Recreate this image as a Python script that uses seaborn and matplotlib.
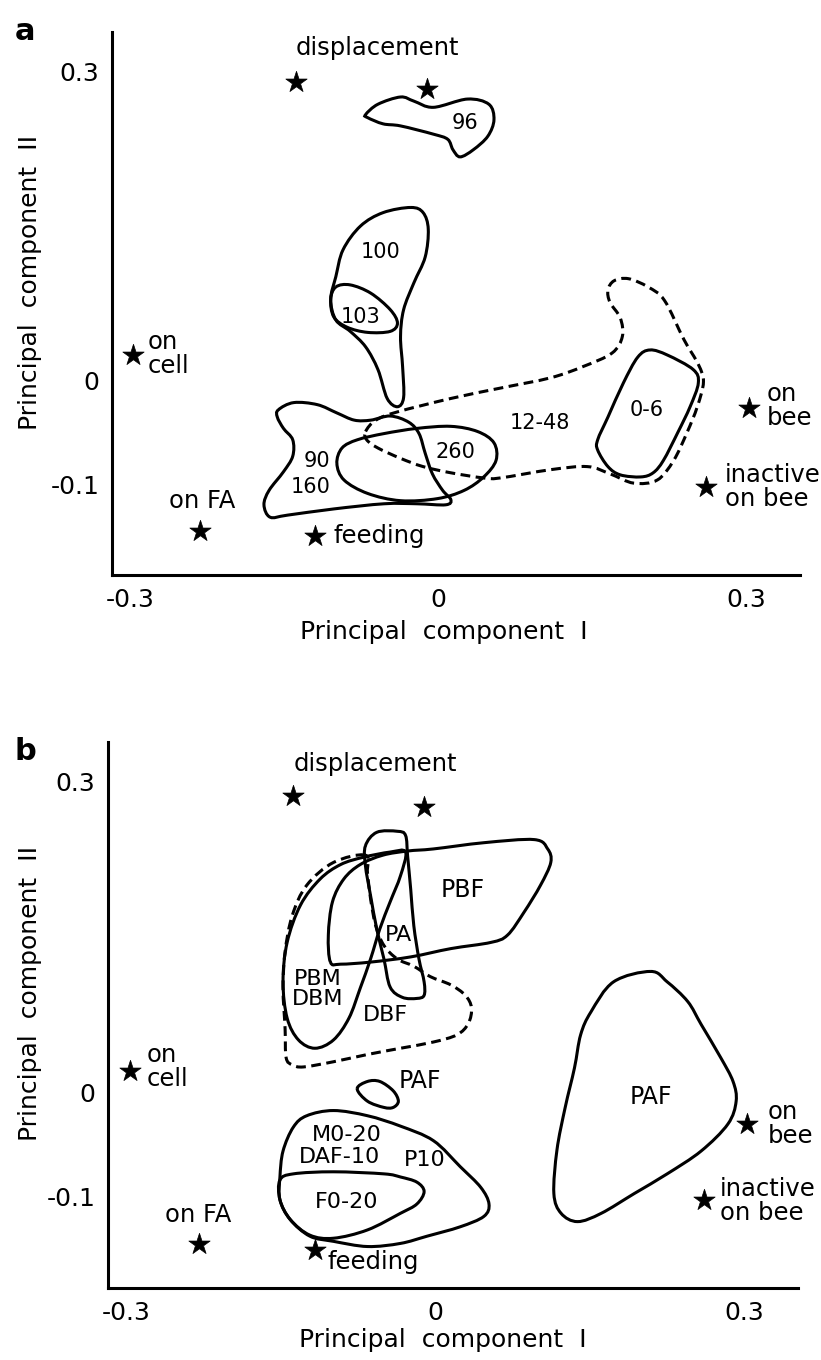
import matplotlib
matplotlib.use("Agg")
import matplotlib.pyplot as plt
from matplotlib.path import Path
from matplotlib.patches import PathPatch
import seaborn as sns
import pandas as pd

# ---- behaviour reference points (stars) ----
STARS_A_X = [-0.139, -0.011, -0.298, -0.232, -0.120, 0.302, 0.260]
STARS_A_Y = [0.290, 0.283, 0.025, -0.145, -0.150, -0.026, -0.103]
STARS_B_X = [-0.138, -0.011, -0.297, -0.230, -0.117, 0.303, 0.261]
STARS_B_Y = [0.286, 0.275, 0.021, -0.146, -0.151, -0.030, -0.103]

STAR_TEXT = ["displacement", "on\ncell", "on FA", "feeding", "on\nbee", "inactive\non bee"]
STAR_TEXT_HA = ["center", "left", "center", "left", "left", "left"]
STAR_TEXT_A = [(-0.060, 0.322), (-0.283, 0.026), (-0.230, -0.116), (-0.102, -0.150),
               (0.320, -0.024), (0.279, -0.103)]
STAR_TEXT_B = [(-0.058, 0.317), (-0.280, 0.025), (-0.230, -0.118), (-0.105, -0.163),
               (0.323, -0.030), (0.276, -0.104)]

# ---- panel a: group outlines (PC I, PC II) ----
A_96 = [(-0.071, 0.258), (-0.059, 0.268), (-0.037, 0.275), (-0.024, 0.271), (-0.005, 0.265),
        (0.028, 0.273), (0.049, 0.268), (0.054, 0.253), (0.048, 0.237), (0.034, 0.224),
        (0.021, 0.217), (0.014, 0.224), (0.009, 0.234), (-0.005, 0.239), (-0.037, 0.247),
        (-0.054, 0.249), (-0.069, 0.255)]
A_100 = [(-0.027, 0.168), (-0.015, 0.163), (-0.010, 0.147), (-0.013, 0.120), (-0.024, 0.095),
         (-0.034, 0.069), (-0.037, 0.043), (-0.035, 0.014), (-0.034, -0.016), (-0.040, -0.025),
         (-0.050, -0.017), (-0.059, 0.011), (-0.071, 0.033), (-0.086, 0.048), (-0.100, 0.059),
         (-0.105, 0.079), (-0.100, 0.101), (-0.093, 0.127), (-0.076, 0.150), (-0.054, 0.163)]
A_103 = [(-0.100, 0.091), (-0.086, 0.093), (-0.066, 0.085), (-0.047, 0.069), (-0.040, 0.056),
         (-0.047, 0.048), (-0.069, 0.047), (-0.089, 0.052), (-0.102, 0.062), (-0.105, 0.079)]
A_90_160 = [(-0.156, -0.028), (-0.141, -0.021), (-0.118, -0.023), (-0.099, -0.031), (-0.082, -0.038),
            (-0.066, -0.038), (-0.047, -0.034), (-0.029, -0.040), (-0.019, -0.051), (-0.013, -0.070),
            (-0.006, -0.090), (0.004, -0.106), (0.012, -0.115), (0.007, -0.120), (-0.021, -0.119),
            (-0.053, -0.119), (-0.102, -0.124), (-0.147, -0.130), (-0.164, -0.132), (-0.170, -0.120),
            (-0.165, -0.106), (-0.151, -0.088), (-0.142, -0.073), (-0.142, -0.057), (-0.151, -0.046),
            (-0.157, -0.035)]
A_260 = [(-0.099, -0.080), (-0.094, -0.065), (-0.079, -0.057), (-0.053, -0.051), (-0.021, -0.046),
         (0.012, -0.044), (0.038, -0.049), (0.054, -0.060), (0.056, -0.077), (0.044, -0.093),
         (0.025, -0.106), (-0.001, -0.114), (-0.037, -0.116), (-0.069, -0.109), (-0.092, -0.096)]
A_12_48 = [(-0.071, -0.049), (-0.061, -0.038), (-0.040, -0.030), (0.012, -0.017), (0.060, -0.007),
           (0.109, 0.003), (0.141, 0.014), (0.169, 0.027), (0.179, 0.043), (0.177, 0.061),
           (0.167, 0.076), (0.165, 0.088), (0.171, 0.097), (0.185, 0.099), (0.204, 0.091),
           (0.220, 0.078), (0.239, 0.040), (0.253, 0.016), (0.258, -0.001), (0.252, -0.025),
           (0.242, -0.050), (0.229, -0.077), (0.213, -0.096), (0.190, -0.099), (0.167, -0.090),
           (0.145, -0.083), (0.109, -0.086), (0.060, -0.094), (0.044, -0.094), (0.012, -0.089),
           (-0.015, -0.083), (-0.037, -0.075), (-0.059, -0.065), (-0.070, -0.057)]
A_0_6 = [(0.206, 0.030), (0.223, 0.025), (0.248, 0.011), (0.253, -0.002), (0.245, -0.025),
         (0.233, -0.050), (0.219, -0.077), (0.209, -0.089), (0.197, -0.093), (0.177, -0.091),
         (0.165, -0.083), (0.155, -0.067), (0.155, -0.057), (0.165, -0.035), (0.180, -0.002),
         (0.194, 0.023)]

A_LABELS = ["96", "100", "103", "90", "160", "260", "12-48", "0-6"]
A_LABEL_XY = [(0.026, 0.250), (-0.056, 0.125), (-0.076, 0.062), (-0.118, -0.078),
              (-0.125, -0.103), (0.016, -0.069), (0.099, -0.041), (0.203, -0.028)]

# ---- panel b: group outlines ----
B_PBM_DBM = [(-0.070, 0.227), (-0.044, 0.232), (-0.029, 0.232), (-0.034, 0.209), (-0.044, 0.184),
             (-0.054, 0.158), (-0.063, 0.129), (-0.073, 0.101), (-0.084, 0.072), (-0.099, 0.051),
             (-0.117, 0.043), (-0.133, 0.051), (-0.144, 0.072), (-0.148, 0.107), (-0.144, 0.145),
             (-0.131, 0.181), (-0.112, 0.206), (-0.092, 0.220)]
B_DBF = [(-0.068, 0.229), (-0.099, 0.222), (-0.125, 0.200), (-0.139, 0.171), (-0.146, 0.136),
         (-0.148, 0.101), (-0.146, 0.062), (-0.145, 0.034), (-0.139, 0.027), (-0.128, 0.025),
         (-0.099, 0.030), (-0.066, 0.037), (-0.034, 0.043), (-0.002, 0.049), (0.021, 0.056),
         (0.032, 0.067), (0.035, 0.082), (0.029, 0.094), (0.015, 0.104), (-0.005, 0.112),
         (-0.021, 0.122), (-0.037, 0.129), (-0.050, 0.142), (-0.058, 0.161), (-0.063, 0.187),
         (-0.066, 0.212)]
B_PA = [(-0.068, 0.238), (-0.057, 0.251), (-0.037, 0.252), (-0.029, 0.248), (-0.027, 0.228),
        (-0.024, 0.196), (-0.021, 0.161), (-0.016, 0.129), (-0.011, 0.107), (-0.011, 0.094),
        (-0.018, 0.091), (-0.032, 0.092), (-0.044, 0.102), (-0.050, 0.129), (-0.057, 0.158),
        (-0.063, 0.190), (-0.068, 0.219)]
B_PBF = [(-0.102, 0.126), (-0.104, 0.152), (-0.100, 0.184), (-0.089, 0.206), (-0.073, 0.220),
         (-0.051, 0.229), (-0.027, 0.233), (-0.002, 0.235), (0.047, 0.241), (0.096, 0.244),
         (0.109, 0.235), (0.112, 0.222), (0.102, 0.200), (0.086, 0.174), (0.070, 0.152),
         (0.054, 0.145), (0.015, 0.139), (-0.024, 0.131), (-0.063, 0.126), (-0.092, 0.124)]
B_PAF_SMALL = [(-0.076, 0.004), (-0.066, 0.011), (-0.054, 0.011), (-0.041, 0.002),
               (-0.036, -0.008), (-0.041, -0.014), (-0.050, -0.014), (-0.066, -0.008)]
B_M0_20 = [(-0.125, -0.022), (-0.099, -0.017), (-0.066, -0.022), (-0.034, -0.032), (-0.002, -0.046),
           (0.024, -0.071), (0.044, -0.091), (0.052, -0.107), (0.047, -0.119),
           (0.024, -0.129), (-0.008, -0.138), (-0.034, -0.145), (-0.066, -0.148), (-0.099, -0.143),
           (-0.122, -0.138), (-0.141, -0.122), (-0.151, -0.103), (-0.151, -0.081), (-0.148, -0.056),
           (-0.138, -0.033)]
B_F0_20 = [(-0.151, -0.084), (-0.138, -0.078), (-0.099, -0.076), (-0.050, -0.078), (-0.034, -0.081),
           (-0.018, -0.086), (-0.011, -0.095), (-0.018, -0.107), (-0.034, -0.116), (-0.066, -0.132),
           (-0.099, -0.140), (-0.122, -0.137), (-0.141, -0.122), (-0.151, -0.103)]
B_PAF = [(0.209, 0.117), (0.173, 0.107), (0.151, 0.078), (0.141, 0.056), (0.135, 0.024),
         (0.126, -0.014), (0.118, -0.055), (0.115, -0.097), (0.122, -0.116), (0.138, -0.124),
         (0.161, -0.116), (0.193, -0.097), (0.225, -0.078), (0.258, -0.056), (0.284, -0.030),
         (0.292, -0.008), (0.289, 0.011), (0.277, 0.034), (0.258, 0.066), (0.245, 0.088),
         (0.225, 0.107)]

B_LABELS = ["PBF", "PA", "PBM", "DBM", "DBF", "PAF", "M0-20", "DAF-10", "P10", "F0-20", "PAF"]
B_LABEL_XY = [(0.026, 0.195), (-0.036, 0.152), (-0.114, 0.110), (-0.114, 0.090), (-0.049, 0.075),
              (-0.015, 0.011), (-0.086, -0.041), (-0.093, -0.062), (-0.010, -0.065),
              (-0.086, -0.105), (0.209, -0.004)]

X_TICKS = [-0.3, -0.2, -0.1, 0.0, 0.1, 0.2, 0.3]
X_TICKLABELS = ["-0.3", "", "", "0", "", "", "0.3"]
Y_TICKS = [-0.1, 0.0, 0.1, 0.2, 0.3]
Y_TICKLABELS = ["-0.1", "0", "", "", "0.3"]


def smooth_outline(pts):
    """Closed Catmull-Rom outline drawn as cubic Bezier path."""
    n = len(pts)
    verts = [pts[0]]
    codes = [Path.MOVETO]
    for i in range(n):
        p0, p1, p2, p3 = pts[i - 1], pts[i], pts[(i + 1) % n], pts[(i + 2) % n]
        c1 = (p1[0] + (p2[0] - p0[0]) / 6, p1[1] + (p2[1] - p0[1]) / 6)
        c2 = (p2[0] - (p3[0] - p1[0]) / 6, p2[1] - (p3[1] - p1[1]) / 6)
        verts += [c1, c2, p2]
        codes += [Path.CURVE4] * 3
    return Path(verts, codes)


def draw_outline(ax, pts, dashed=False):
    ls = (0, (3.2, 1.8)) if dashed else "-"
    ax.add_patch(PathPatch(smooth_outline(pts), facecolor="none", edgecolor="black",
                           linewidth=2.2, linestyle=ls, zorder=2))


def style_axes(ax):
    ax.set_xlim(-0.318, 0.352)
    ax.set_ylim(-0.188, 0.338)
    for s in ["top", "right"]:
        ax.spines[s].set_visible(False)
    for s in ["left", "bottom"]:
        ax.spines[s].set_linewidth(2.2)
    ax.set_xticks(X_TICKS)
    ax.set_xticklabels(X_TICKLABELS)
    ax.set_yticks(Y_TICKS)
    ax.set_yticklabels(Y_TICKLABELS)
    ax.tick_params(direction="in", length=11, width=2, labelsize=18, pad=9)
    ax.set_xlabel("Principal  component  I", fontsize=18)
    ax.set_ylabel("Principal  component  II", fontsize=18)


def draw_stars(ax, xs, ys, text_xy):
    df = pd.DataFrame({"pc1": xs, "pc2": ys})
    sns.scatterplot(data=df, x="pc1", y="pc2", marker="*", s=260, color="black",
                    edgecolor="black", linewidth=0.5, ax=ax, zorder=3, legend=False)
    for txt, ha, (tx, ty) in zip(STAR_TEXT, STAR_TEXT_HA, text_xy):
        ax.text(tx, ty, txt, ha=ha, va="center", fontsize=17.5, linespacing=1.0)


sns.set_theme(style="white")
plt.rcParams["font.family"] = ["DejaVu Sans"]
plt.rcParams.update({"text.color": "black", "axes.labelcolor": "black",
                     "xtick.color": "black", "ytick.color": "black",
                     "axes.edgecolor": "black"})

fig = plt.figure(figsize=(8.21, 13.6), dpi=100)
ax_a = fig.add_axes([0.1364, 0.5772, 0.838, 0.3993])
ax_b = fig.add_axes([0.1315, 0.0529, 0.8404, 0.4015])

# panel a
for pts in [A_96, A_100, A_103, A_90_160, A_260, A_0_6]:
    draw_outline(ax_a, pts)
draw_outline(ax_a, A_12_48, dashed=True)
for lab, (lx, ly) in zip(A_LABELS, A_LABEL_XY):
    ax_a.text(lx, ly, lab, ha="center", va="center", fontsize=15)
draw_stars(ax_a, STARS_A_X, STARS_A_Y, STAR_TEXT_A)
style_axes(ax_a)
ax_a.xaxis.set_label_coords(0.483, -0.083)
ax_a.yaxis.set_label_coords(-0.102, 0.538)

# panel b
for pts in [B_PBM_DBM, B_PA, B_PBF, B_PAF_SMALL, B_M0_20, B_F0_20, B_PAF]:
    draw_outline(ax_b, pts)
draw_outline(ax_b, B_DBF, dashed=True)
for lab, (lx, ly) in zip(B_LABELS, B_LABEL_XY):
    fs = 17 if lab in ("PBF", "PAF") else 16
    ax_b.text(lx, ly, lab, ha="center", va="center", fontsize=fs)
draw_stars(ax_b, STARS_B_X, STARS_B_Y, STAR_TEXT_B)
style_axes(ax_b)
ax_b.xaxis.set_label_coords(0.486, -0.073)
ax_b.yaxis.set_label_coords(-0.096, 0.54)

fig.text(25 / 821, 1 - 32 / 1360, "a", fontsize=22, fontweight="bold", ha="center", va="center")
fig.text(25 / 821, 1 - 752 / 1360, "b", fontsize=22, fontweight="bold", ha="center", va="center")

fig.savefig("out.png", dpi=100)
